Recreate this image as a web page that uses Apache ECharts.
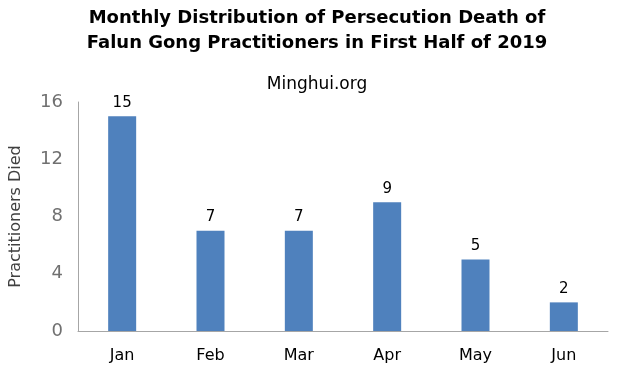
<!DOCTYPE html>
<html>
<head>
<meta charset="utf-8">
<script src="https://cdn.jsdelivr.net/npm/echarts@6/dist/echarts.min.js"></script>
<style>
  html, body { margin: 0; padding: 0; background: #fff; }
  #chart { width: 618px; height: 377px; }
</style>
</head>
<body>
<div id="chart"></div>
<script>
const months = ["Jan", "Feb", "Mar", "Apr", "May", "Jun"];
const deaths = [15, 7, 7, 9, 5, 2];
const yTicks = [0, 4, 8, 12, 16];

const chart = echarts.init(document.getElementById("chart"));

const option = {
  animation: false,
  backgroundColor: "#ffffff",
  title: [
    {
      text: "Monthly Distribution of Persecution Death of\nFalun Gong Practitioners in First Half of 2019",
      left: 312,
      textAlign: "center",
      top: 1,
      textStyle: {
        fontFamily: "DejaVu Sans",
        fontWeight: "bold",
        fontSize: 18,
        lineHeight: 25,
        color: "#000"
      }
    },
    {
      text: "Minghui.org",
      left: 312,
      textAlign: "center",
      top: 71,
      textStyle: {
        fontFamily: "DejaVu Sans",
        fontWeight: "normal",
        fontSize: 17,
        color: "#000"
      }
    }
  ],
  grid: {
    left: 77,
    right: 10,
    top: 102,
    bottom: 46,
    containLabel: false
  },
  xAxis: {
    type: "category",
    data: months,
    axisLine: { lineStyle: { color: "#a6a6a6", width: 1 } },
    axisTick: { show: false },
    axisLabel: {
      margin: 17,
      fontFamily: "DejaVu Sans",
      fontSize: 16,
      color: "#000"
    }
  },
  yAxis: {
    type: "value",
    min: yTicks[0],
    max: yTicks[yTicks.length - 1],
    interval: 4,
    name: "Practitioners Died",
    nameLocation: "middle",
    nameGap: 54,
    nameTextStyle: {
      fontFamily: "DejaVu Sans",
      fontSize: 16,
      color: "#404040"
    },
    axisLine: { show: true, lineStyle: { color: "#a6a6a6", width: 1 } },
    axisTick: { show: false },
    splitLine: { show: false },
    axisLabel: {
      margin: 15,
      fontFamily: "DejaVu Sans",
      fontSize: 18,
      color: "#707070"
    }
  },
  series: [
    {
      type: "bar",
      data: deaths,
      barWidth: 28,
      itemStyle: { color: "#4f81bd" },
      label: {
        show: true,
        position: "top",
        distance: 6,
        fontFamily: "DejaVu Sans",
        fontSize: 15,
        color: "#000"
      }
    }
  ]
};

chart.setOption(option);
</script>
</body>
</html>
